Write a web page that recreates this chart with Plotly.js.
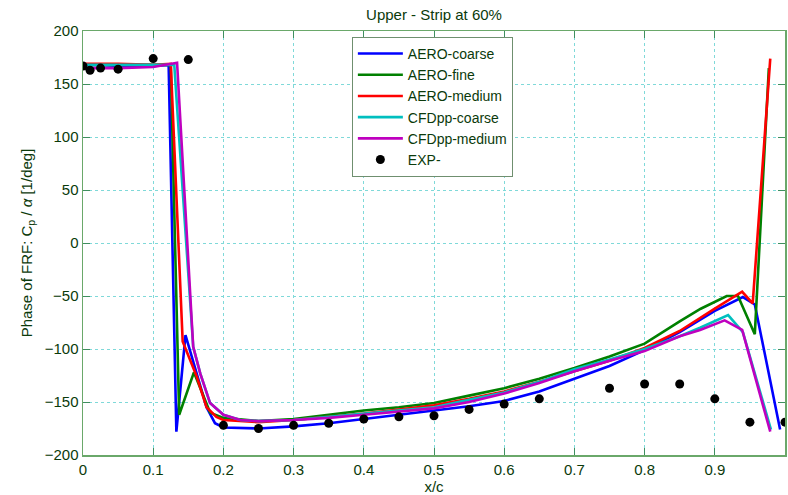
<!DOCTYPE html>
<html>
<head>
<meta charset="utf-8">
<script src="https://cdn.plot.ly/plotly-3.0.1.min.js"></script>
<style>
  html, body { margin: 0; padding: 0; background: #ffffff; }
  #chart { width: 788px; height: 495px; }
</style>
</head>
<body>
<div id="chart"></div>
<script>
// Phase of the pressure-coefficient FRF along the upper-surface strip at 60% span

const aeroCoarseX = [0, 0.025, 0.05, 0.075, 0.1, 0.122, 0.133, 0.146, 0.162, 0.176, 0.188, 0.2, 0.25, 0.3, 0.35, 0.4, 0.45, 0.5, 0.55, 0.6, 0.65, 0.7, 0.75, 0.8, 0.85, 0.9, 0.94, 0.957, 0.993];
const aeroCoarseY = [168, 168, 167, 167, 167, 168, -178, -87, -123, -155, -170, -174, -175, -173, -170, -166, -162, -158, -154, -149, -140, -128, -116, -101, -84, -64, -51, -58, -176];

const aeroFineX = [0, 0.05, 0.1, 0.125, 0.137, 0.158, 0.181, 0.2, 0.25, 0.3, 0.35, 0.4, 0.45, 0.5, 0.55, 0.6, 0.65, 0.7, 0.75, 0.8, 0.85, 0.88, 0.917, 0.933, 0.957, 0.977];
const aeroFineY = [168, 168, 168, 168, -162, -122, -160, -165, -168, -166, -162, -158, -155, -151, -144, -137, -128, -118, -107, -95, -74, -62, -50, -50, -86, 165];

const aeroMediumX = [0, 0.05, 0.1, 0.125, 0.142, 0.162, 0.176, 0.19, 0.2, 0.25, 0.3, 0.35, 0.4, 0.45, 0.5, 0.55, 0.6, 0.65, 0.7, 0.75, 0.8, 0.85, 0.9, 0.939, 0.954, 0.979];
const aeroMediumY = [169, 169, 168, 169, -93, -126, -155, -164, -167, -169, -167, -164, -161, -157, -153, -147, -140, -131, -121, -111, -99, -83, -62, -46, -57, 174];

const cfdCoarseX = [0, 0.05, 0.1, 0.13, 0.157, 0.167, 0.181, 0.2, 0.224, 0.25, 0.3, 0.35, 0.4, 0.45, 0.5, 0.55, 0.6, 0.65, 0.7, 0.75, 0.8, 0.85, 0.879, 0.919, 0.94, 0.98];
const cfdCoarseY = [168, 168, 168, 168, -98, -123, -151, -162, -167, -168, -167, -164, -161, -158, -155, -148, -141, -131, -119, -110, -100, -88, -80, -68, -84, -176];

const cfdMediumX = [0, 0.05, 0.1, 0.134, 0.157, 0.167, 0.181, 0.2, 0.224, 0.25, 0.3, 0.35, 0.4, 0.45, 0.5, 0.55, 0.6, 0.65, 0.7, 0.75, 0.8, 0.85, 0.879, 0.914, 0.939, 0.979];
const cfdMediumY = [165, 165, 166, 170, -98, -123, -151, -162, -167, -168, -167, -165, -162, -159, -156, -150, -142, -132, -121, -111, -102, -88, -82, -73, -82, -178];

const expX = [0, 0.01, 0.025, 0.05, 0.1, 0.15, 0.2, 0.25, 0.3, 0.35, 0.4, 0.45, 0.5, 0.55, 0.6, 0.65, 0.75, 0.8, 0.85, 0.9, 0.95, 1.0];
const expY = [167, 163, 165, 164, 174, 173, -172, -175, -172, -170, -166, -164, -163, -157, -152, -147, -137, -133, -133, -147, -169, -169];

const xTicks = [0, 0.1, 0.2, 0.3, 0.4, 0.5, 0.6, 0.7, 0.8, 0.9, 1];
const xTickText = ['0', '0.1', '0.2', '0.3', '0.4', '0.5', '0.6', '0.7', '0.8', '0.9', '1'];
const yTicks = [-200, -150, -100, -50, 0, 50, 100, 150, 200];

const textColor = '#0b3a0b';
const fontFamily = 'Liberation Sans, Arial, sans-serif';

function lineTrace(name, x, y, color) {
  return {
    type: 'scatter', mode: 'lines', name: name, x: x, y: y,
    line: { color: color, width: 2.6 }
  };
}

const traces = [
  lineTrace('AERO-coarse', aeroCoarseX, aeroCoarseY, '#0000ff'),
  lineTrace('AERO-fine', aeroFineX, aeroFineY, '#008000'),
  lineTrace('AERO-medium', aeroMediumX, aeroMediumY, '#ff0000'),
  lineTrace('CFDpp-coarse', cfdCoarseX, cfdCoarseY, '#00bfbf'),
  lineTrace('CFDpp-medium', cfdMediumX, cfdMediumY, '#bf00bf'),
  {
    type: 'scatter', mode: 'markers', name: 'EXP-', x: expX, y: expY,
    marker: { color: '#000000', size: 9, symbol: 'circle' }
  }
];

const axisCommon = {
  showline: true, linecolor: '#6aa86a', linewidth: 1.5, mirror: 'ticks',
  ticks: 'inside', ticklen: 7, tickcolor: '#3f8f5f', tickwidth: 1,
  showgrid: true, gridcolor: '#7fd9d9', griddash: 'dot', gridwidth: 1,
  zeroline: false,
  tickfont: { family: fontFamily, size: 15, color: textColor }
};

const layout = {
  width: 788, height: 495,
  margin: { l: 83, r: 3, t: 31, b: 40 },
  paper_bgcolor: '#ffffff', plot_bgcolor: '#ffffff',
  font: { family: fontFamily, color: textColor },
  title: {
    text: 'Upper - Strip at 60%',
    font: { family: fontFamily, size: 15, color: textColor },
    x: 0.5, xref: 'paper', xanchor: 'center', y: 0.97, yanchor: 'middle'
  },
  xaxis: Object.assign({}, axisCommon, {
    range: [0, 1], tickvals: xTicks, ticktext: xTickText,
    title: { text: 'x/c', font: { family: fontFamily, size: 15, color: textColor }, standoff: 4 }
  }),
  yaxis: Object.assign({}, axisCommon, {
    range: [-200, 200], tickvals: yTicks,
    title: { text: 'Phase of FRF: C<sub>p</sub> / <i>α</i> [1/deg]', font: { family: fontFamily, size: 15, color: textColor }, standoff: 8 }
  }),
  showlegend: true,
  legend: {
    x: 0.383, y: 0.986, xanchor: 'left', yanchor: 'top',
    bgcolor: '#ffffff', bordercolor: '#6f8f6f', borderwidth: 1,
    font: { family: fontFamily, size: 14, color: textColor },
    itemwidth: 45, tracegroupgap: 0
  }
};

Plotly.newPlot('chart', traces, layout, { staticPlot: true, displayModeBar: false });
</script>
</body>
</html>
